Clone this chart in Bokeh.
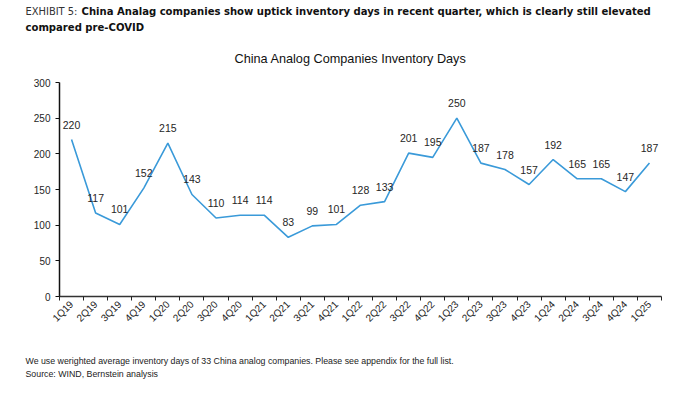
import math
from bokeh.plotting import figure
from bokeh.layouts import column
from bokeh.models import Range1d, FixedTicker, Label
from bokeh.embed import file_html
from bokeh.resources import INLINE
from bokeh.core.properties import value

quarters = ["1Q19", "2Q19", "3Q19", "4Q19", "1Q20", "2Q20", "3Q20", "4Q20",
            "1Q21", "2Q21", "3Q21", "4Q21", "1Q22", "2Q22", "3Q22", "4Q22",
            "1Q23", "2Q23", "3Q23", "4Q23", "1Q24", "2Q24", "3Q24", "4Q24", "1Q25"]
days = [220, 117, 101, 152, 215, 143, 110, 114, 114, 83, 99, 101, 128, 133,
        201, 195, 250, 187, 178, 157, 192, 165, 165, 147, 187]
y_ticks = [0, 50, 100, 150, 200, 250, 300]

header_lead = "EXHIBIT 5:"
header_line1 = "China Analag companies show uptick inventory days in recent quarter, which is clearly still elevated"
header_line2 = "compared pre-COVID"
chart_title = "China Analog Companies Inventory Days"
note1 = "We use werighted average inventory days of 33 China analog companies. Please see appendix for the full list."
note2 = "Source: WIND, Bernstein analysis"

FONT = "Liberation Sans"
NARROW = "DejaVu Sans Condensed"
W = 700


def text_panel(h):
    f = figure(width=W, height=h, output_backend="svg", toolbar_location=None,
               x_range=Range1d(0, W), y_range=Range1d(h, 0),
               x_axis_type=None, y_axis_type=None, min_border=0, title=None,
               frame_align=False)
    f.outline_line_color = None
    f.xgrid.grid_line_color = None
    f.ygrid.grid_line_color = None
    return f


def lab(f, x, y, text, font=FONT, size="10px", color="#1a1a1a", style="normal", align="left"):
    f.add_layout(Label(x=x, y=y, text=text, text_font=font, text_font_size=size,
                       text_color=color, text_font_style=style, text_align=align,
                       text_baseline="middle"))


# header panel: page y 0..74
hdr = text_panel(74)
lab(hdr, 25, 11, header_lead, font=NARROW, size="11px", color="#333333")
lab(hdr, 81, 11, header_line1, font=NARROW, size="11.2px", color="#111111", style="bold")
lab(hdr, 25, 26.5, header_line2, font=NARROW, size="11.2px", color="#111111", style="bold")
lab(hdr, 350, 58, chart_title, size="12.7px", color="#111111", align="center")

# main chart: page y 74..340
n = len(quarters)
xs = [i + 0.5 for i in range(n)]

p = figure(width=W, height=266, output_backend="svg", toolbar_location=None,
           x_range=Range1d(0, n), y_range=Range1d(0, 300),
           min_border_left=59, min_border_right=39, min_border_top=8,
           min_border_bottom=44, title=None, frame_align=False)
p.outline_line_color = None
p.xgrid.grid_line_color = None
p.ygrid.grid_line_color = None

p.line(xs, days, line_color="#3A9AD9", line_width=1.6)
p.text(x=xs, y=days, text=[str(d) for d in days], y_offset=-15,
       text_align="center", text_baseline="middle",
       text_font=value(FONT), text_font_size="10.5px", text_color="#262626")

xa = p.xaxis[0]
xa.ticker = FixedTicker(ticks=xs, minor_ticks=list(range(n + 1)))
xa.major_label_overrides = {x: q for x, q in zip(xs, quarters)}
xa.major_label_orientation = math.pi / 4
xa.major_tick_line_color = None
xa.major_tick_out = 3
xa.major_tick_in = 0
xa.minor_tick_out = 4
xa.minor_tick_in = 0
xa.minor_tick_line_color = "#222222"
xa.axis_line_color = "#333333"
xa.axis_line_width = 1.5
xa.major_label_standoff = 2
xa.major_label_text_font = FONT
xa.major_label_text_font_size = "10px"
xa.major_label_text_color = "#262626"

ya = p.yaxis[0]
ya.ticker = FixedTicker(ticks=y_ticks)
ya.major_tick_out = 4
ya.major_tick_in = 0
ya.minor_tick_line_color = None
ya.major_tick_line_color = "#111111"
ya.axis_line_color = "#111111"
ya.axis_line_width = 1.5
ya.major_label_standoff = 5
ya.major_label_text_font = FONT
ya.major_label_text_font_size = "10px"
ya.major_label_text_color = "#262626"

# footer panel: page y 340..392
ftr = text_panel(52)
lab(ftr, 25, 20, note1, size="8.8px", color="#222222")
lab(ftr, 25, 33.5, note2, size="8.8px", color="#222222")

layout = column(hdr, p, ftr, spacing=0)
open("out.html", "w").write(file_html(layout, INLINE))
